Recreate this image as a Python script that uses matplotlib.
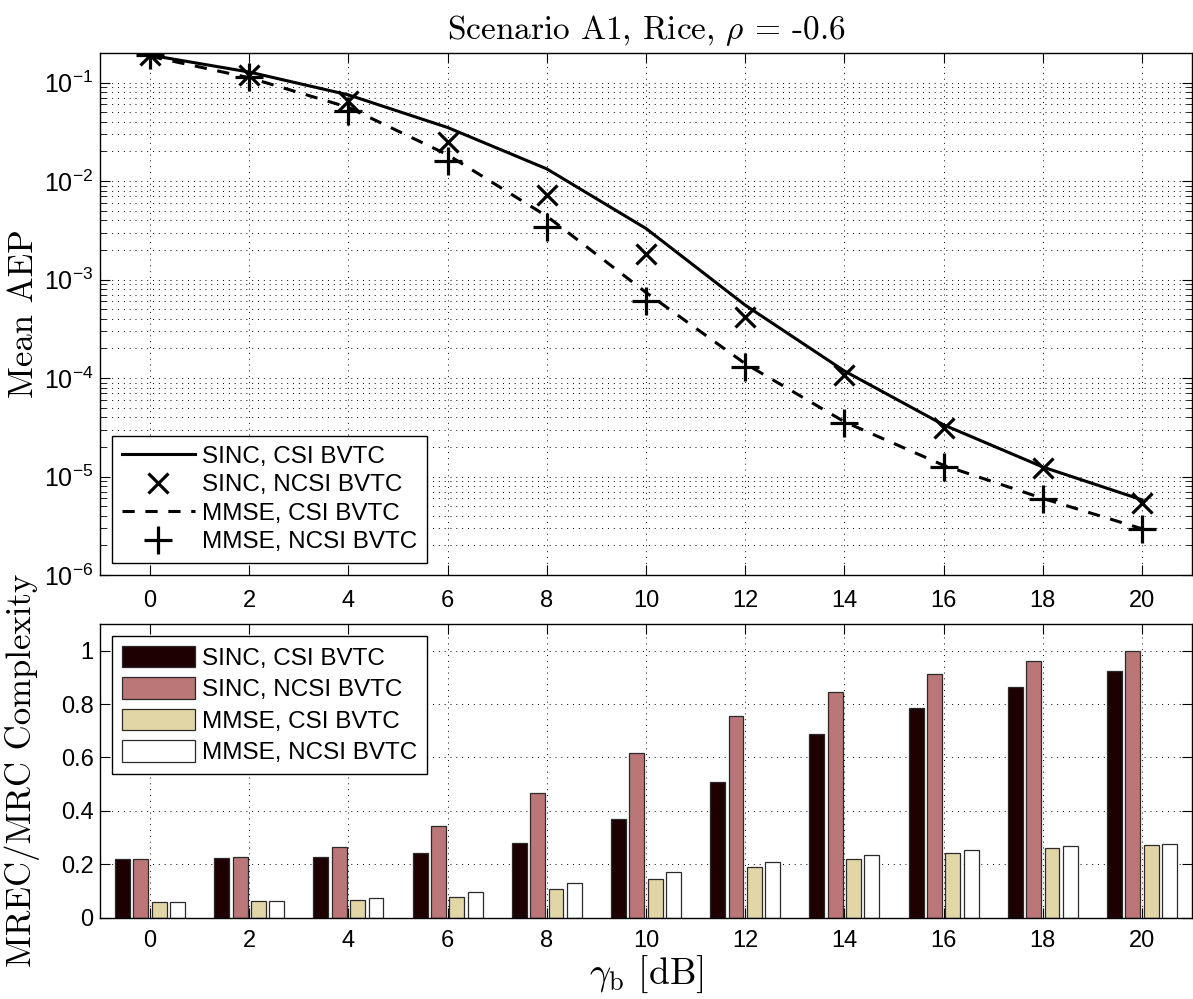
import matplotlib
matplotlib.use("Agg")
import matplotlib.pyplot as plt
import numpy as np

plt.rcParams['mathtext.fontset'] = 'cm'
plt.rcParams['mathtext.rm'] = 'Liberation Sans'
plt.rcParams['mathtext.it'] = 'Liberation Sans:italic'
plt.rcParams['axes.unicode_minus'] = False

# SNR axis (dB)
gamma_b = [0, 2, 4, 6, 8, 10, 12, 14, 16, 18, 20]

# mean AEP curves (top panel)
aep_sinc_csi = [0.19, 0.128, 0.075, 0.035, 0.0133, 0.0033, 0.00055, 0.000118, 3.35e-5, 1.25e-5, 5.8e-6]
aep_sinc_ncsi = [0.19, 0.12, 0.065, 0.025, 0.0073, 0.0018, 0.00042, 0.000108, 3.1e-5, 1.22e-5, 5.4e-6]
aep_mmse_csi = [0.185, 0.112, 0.056, 0.0185, 0.0044, 0.00074, 0.00014, 3.6e-5, 1.3e-5, 6.0e-6, 2.95e-6]
aep_mmse_ncsi = [0.19, 0.115, 0.051, 0.016, 0.0034, 0.0006, 0.00013, 3.5e-5, 1.26e-5, 5.9e-6, 2.9e-6]

# MREC/MRC complexity (bottom panel)
cx_sinc_csi = [0.219, 0.222, 0.228, 0.243, 0.281, 0.368, 0.508, 0.687, 0.787, 0.863, 0.925]
cx_sinc_ncsi = [0.219, 0.228, 0.266, 0.343, 0.466, 0.616, 0.755, 0.846, 0.913, 0.961, 1.0]
cx_mmse_csi = [0.060, 0.062, 0.067, 0.079, 0.106, 0.144, 0.189, 0.221, 0.241, 0.260, 0.271]
cx_mmse_ncsi = [0.060, 0.063, 0.072, 0.095, 0.129, 0.170, 0.210, 0.235, 0.255, 0.267, 0.277]

labels = ['SINC, CSI BVTC', 'SINC, NCSI BVTC', 'MMSE, CSI BVTC', 'MMSE, NCSI BVTC']

sans = 'Liberation Sans'
serif = 'cmr10'
tick_fs = 17
leg_fs = 17.5
lab_fs = 25
dots = (0, (1, 5))

fig = plt.figure(figsize=(11.93, 9.99), dpi=100)
ax1 = fig.add_axes([0.0842, 0.4244, 0.9146, 0.5226])
ax2 = fig.add_axes([0.0842, 0.0814, 0.9146, 0.2940])

# ---- top panel ----
x = np.array(gamma_b)
ax1.semilogy(x, aep_sinc_csi, color='k', lw=2.2, ls='-', label=labels[0])
ax1.semilogy(x, aep_sinc_ncsi, color='k', lw=0, marker='x', ms=14, mew=2.3, label=labels[1])
ax1.semilogy(x, aep_mmse_csi, color='k', lw=2.2, ls=(0, (4, 3.5)), label=labels[2])
ax1.semilogy(x, aep_mmse_ncsi, color='k', lw=0, marker='+', ms=20, mew=2.3, label=labels[3])

ax1.set_xlim(-1, 21)
ax1.set_ylim(1e-6, 0.2)
ax1.set_xticks(gamma_b)
ax1.set_xticklabels([str(v) for v in gamma_b], fontsize=tick_fs, fontfamily=sans)
ydec = [1e-6, 1e-5, 1e-4, 1e-3, 1e-2, 1e-1]
ax1.set_yticks(ydec)
ax1.set_yticklabels([r'$10^{-%d}$' % k for k in [6, 5, 4, 3, 2, 1]],
                    fontsize=tick_fs + 1, math_fontfamily='custom')
ax1.grid(True, which='major', axis='both', color='k', lw=0.7, ls=dots)
ax1.grid(True, which='minor', axis='y', color='k', lw=0.7, ls=dots)
ax1.tick_params(which='both', direction='in', top=True, right=True)
ax1.tick_params(which='major', length=7, width=0.8)
ax1.tick_params(axis='x', which='major', pad=11)
ax1.tick_params(axis='y', which='major', pad=5)
ax1.tick_params(which='minor', length=4, width=0.6)
for s in ax1.spines.values():
    s.set_linewidth(1.0)

ax1.set_title(r'Scenario A1, Rice, $\rho$ = -0.6', fontsize=24, fontfamily=serif, pad=10)
ax1.set_ylabel('Mean AEP', fontsize=lab_fs, fontfamily=serif)
ax1.yaxis.set_label_coords(-0.055, 0.5)

leg1 = ax1.legend(loc='lower left', bbox_to_anchor=(0.0106, 0.023), borderaxespad=0,
                  prop={'family': sans, 'size': leg_fs}, handlelength=3.0,
                  labelspacing=0.27, handletextpad=0.3, borderpad=0.4,
                  fancybox=False, framealpha=1, edgecolor='k')
leg1.get_frame().set_linewidth(1.0)

# ---- bottom panel ----
w = 0.30
offs = [-0.555, -0.185, 0.185, 0.555]
colors = ['#1e0000', '#bb7777', '#e3d6a6', '#ffffff']
series = [cx_sinc_csi, cx_sinc_ncsi, cx_mmse_csi, cx_mmse_ncsi]
for vals, off, col, lab in zip(series, offs, colors, labels):
    ax2.bar(x + off, vals, width=w, color=col, edgecolor='#2a2a2a', linewidth=0.9,
            label=lab, zorder=3)

ax2.set_xlim(-1, 21)
ax2.set_ylim(0, 1.1)
ax2.set_xticks(gamma_b)
ax2.set_xticklabels([str(v) for v in gamma_b], fontsize=tick_fs, fontfamily=sans)
cticks = [0, 0.2, 0.4, 0.6, 0.8, 1]
ax2.set_yticks(cticks)
ax2.set_yticklabels(['0', '0.2', '0.4', '0.6', '0.8', '1'], fontsize=tick_fs, fontfamily=sans)
ax2.grid(True, which='major', color='k', lw=0.7, ls=dots, zorder=0)
ax2.set_axisbelow(True)
ax2.tick_params(which='both', direction='in', top=True, right=True)
ax2.tick_params(which='major', length=7, width=0.8)
ax2.tick_params(axis='x', which='major', pad=9)
ax2.tick_params(axis='y', which='major', pad=5)
for s in ax2.spines.values():
    s.set_linewidth(1.0)
    s.set_zorder(5)

ax2.set_ylabel('MREC/MRC Complexity', fontsize=lab_fs, fontfamily=serif)
ax2.yaxis.set_label_coords(-0.055, 0.5)
ax2.set_xlabel(r'$\gamma_\mathrm{b}$ [dB]', fontsize=27, fontfamily=serif, labelpad=1)

leg2 = ax2.legend(loc='upper left', bbox_to_anchor=(0.0106, 0.959), borderaxespad=0,
                  prop={'family': sans, 'size': leg_fs}, handlelength=3.0,
                  handleheight=1.0, labelspacing=0.3, handletextpad=0.3, borderpad=0.4,
                  fancybox=False, framealpha=1, edgecolor='k')
leg2.get_frame().set_linewidth(1.0)
leg2.set_zorder(10)

fig.savefig('out.png', dpi=100)
